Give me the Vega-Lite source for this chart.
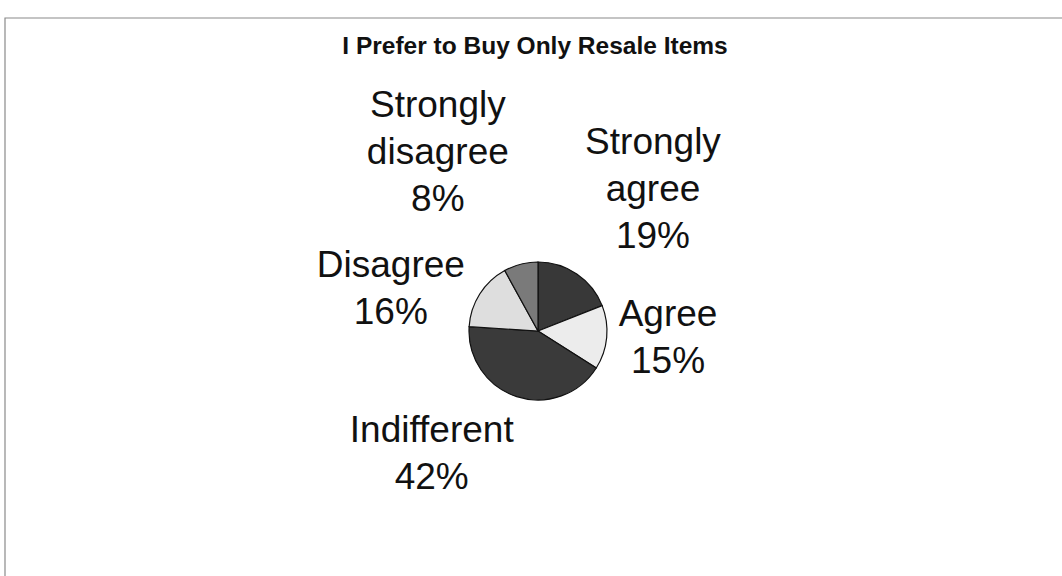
{
  "$schema": "https://vega.github.io/schema/vega-lite/v6.json",
  "autosize": {"type": "none"},
  "padding": {"left": 5, "top": 18, "right": 0, "bottom": 0},
  "width": 1066,
  "height": 626,
  "background": "white",
  "config": {
    "text": {"font": "Liberation Sans", "fontSize": 37, "lineHeight": 47, "lineBreak": " ", "baseline": "middle", "align": "center", "fill": "#111"}
  },
  "title": {
    "text": "I Prefer to Buy Only Resale Items",
    "font": "Liberation Sans",
    "fontSize": 24.5,
    "fontWeight": "bold",
    "color": "#111",
    "anchor": "middle",
    "offset": -42,
    "dx": -3
  },
  "data": {
    "values": [
      {"answer": "Strongly agree", "value": 19, "label": "Strongly agree 19%", "k": 1},
      {"answer": "Agree", "value": 15, "label": "Agree 15%", "k": 2},
      {"answer": "Indifferent", "value": 42, "label": "Indifferent 42%", "k": 3},
      {"answer": "Disagree", "value": 16, "label": "Disagree 16%", "k": 4},
      {"answer": "Strongly disagree", "value": 8, "label": "Strongly disagree 8%", "k": 5}
    ]
  },
  "layer": [
    {
      "data": {"values": [{"frame": 1}]},
      "mark": {"type": "rect", "fill": null, "fillOpacity": 0, "stroke": "#8a8a8a", "strokeWidth": 1.2},
      "encoding": {}
    },
    {
      "mark": {"type": "arc", "outerRadius": 69, "stroke": "#111", "strokeWidth": 1.2},
      "encoding": {
        "theta": {"field": "value", "type": "quantitative", "stack": true},
        "order": {"field": "k", "type": "quantitative"},
        "color": {
          "field": "answer", "type": "nominal",
          "scale": {
            "domain": ["Strongly agree", "Agree", "Indifferent", "Disagree", "Strongly disagree"],
            "range": ["#383838", "#ececec", "#3a3a3a", "#dedede", "#7a7a7a"]
          },
          "legend": null
        }
      }
    },
    {
      "mark": {"type": "text", "radius": 220, "thetaOffset": -0.047},
      "encoding": {
        "theta": {"field": "value", "type": "quantitative", "stack": true},
        "order": {"field": "k", "type": "quantitative"},
        "text": {"condition": {"test": "datum.answer === 'Strongly agree'", "field": "label"}, "value": ""}
      }
    },
    {
      "mark": {"type": "text", "radius": 131, "thetaOffset": -0.216},
      "encoding": {
        "theta": {"field": "value", "type": "quantitative", "stack": true},
        "order": {"field": "k", "type": "quantitative"},
        "text": {"condition": {"test": "datum.answer === 'Agree'", "field": "label"}, "value": ""}
      }
    },
    {
      "mark": {"type": "text", "radius": 146, "thetaOffset": 0.501},
      "encoding": {
        "theta": {"field": "value", "type": "quantitative", "stack": true},
        "order": {"field": "k", "type": "quantitative"},
        "text": {"condition": {"test": "datum.answer === 'Indifferent'", "field": "label"}, "value": ""}
      }
    },
    {
      "mark": {"type": "text", "radius": 161, "thetaOffset": -0.148},
      "encoding": {
        "theta": {"field": "value", "type": "quantitative", "stack": true},
        "order": {"field": "k", "type": "quantitative"},
        "text": {"condition": {"test": "datum.answer === 'Disagree'", "field": "label"}, "value": ""}
      }
    },
    {
      "mark": {"type": "text", "radius": 246, "thetaOffset": -0.168},
      "encoding": {
        "theta": {"field": "value", "type": "quantitative", "stack": true},
        "order": {"field": "k", "type": "quantitative"},
        "text": {"condition": {"test": "datum.answer === 'Strongly disagree'", "field": "label"}, "value": ""}
      }
    }
  ]
}
